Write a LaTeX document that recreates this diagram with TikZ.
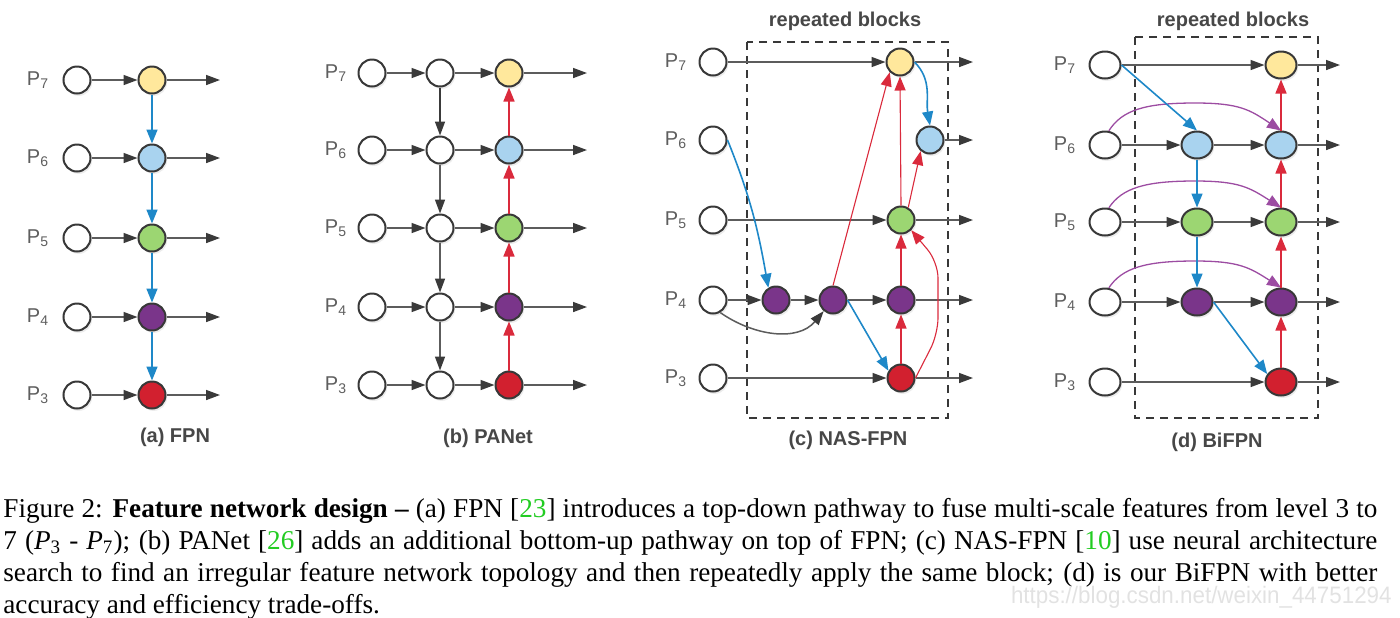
\documentclass[tikz,border=0pt]{standalone}
\usepackage{fontspec}
\setmainfont{Liberation Serif}
\setsansfont{Liberation Sans}
\usetikzlibrary{arrows.meta,shapes.geometric,shadows}

\definecolor{ndraw}{HTML}{383838}
\definecolor{lgray}{HTML}{5C5C5C}
\definecolor{tipgray}{HTML}{3A3A3A}
\definecolor{cyellow}{HTML}{FFE89C}
\definecolor{cblue}{HTML}{A9D3EF}
\definecolor{cgreen}{HTML}{9CD672}
\definecolor{cpurple}{HTML}{7A358A}
\definecolor{cred}{HTML}{D2202F}
\definecolor{ablue}{HTML}{1E88C8}
\definecolor{ared}{HTML}{DA2A3C}
\definecolor{apurple}{HTML}{9C4CA2}
\definecolor{lblgray}{HTML}{5E5E5E}
\definecolor{ttlgray}{HTML}{474747}
\definecolor{citegreen}{HTML}{22CC22}
\definecolor{wmgray}{HTML}{E2E2E2}

\tikzset{
  nd/.style={ellipse, draw=ndraw, line width=1pt, minimum width=13.5pt, minimum height=13.5pt,
    inner sep=0pt, fill=white, drop shadow={opacity=0.15, shadow xshift=0.8pt, shadow yshift=-1.2pt}},
  ndw/.style={nd, minimum width=15.5pt},
  lbl/.style={font=\sffamily\fontsize{10}{12}\selectfont, text=lblgray, inner sep=0pt, anchor=east},
  ttl/.style={font=\sffamily\bfseries\fontsize{10}{12}\selectfont, text=ttlgray, inner sep=0pt},
  ga/.style={draw=lgray, line width=0.75pt, -{Triangle[length=7pt,width=5pt,color=tipgray]}},
  gda/.style={draw=tipgray, line width=0.8pt, -{Triangle[length=7pt,width=5pt,color=tipgray]}},
  ba/.style={draw=ablue, line width=0.8pt, -{Triangle[length=7pt,width=5.5pt]}},
  ra/.style={draw=ared, line width=0.8pt, -{Triangle[length=7pt,width=5.5pt]}},
  rat/.style={draw=ared, line width=0.55pt, -{Triangle[length=7pt,width=5.5pt]}},
  pa/.style={draw=apurple, line width=0.65pt, -{Triangle[length=7pt,width=5.5pt]}},
  dbox/.style={draw=ndraw, line width=0.8pt, dash pattern=on 4pt off 3pt},
}

\begin{document}
\begin{tikzpicture}[x=0.5pt,y=-0.5pt]
\useasboundingbox (0,0) rectangle (1400,617);

% ---------------- (a) FPN ----------------
\foreach \i/\y/\c in {7/80/cyellow,6/158/cblue,5/238/cgreen,4/317/cpurple,3/395/cred}{
  \node[nd] (a\i) at (77,\y) {};
  \node[lbl] (la\i) at ([xshift=-6.5pt]a\i.west) {P\textsubscript{\i}};
  \node[nd, fill=\c] (A\i) at (152,\y) {};
  \coordinate (ao\i) at (220,\y);
  \draw[ga] (a\i) -- (A\i);
  \draw[ga] (A\i) -- (ao\i);
}
\draw[ba] (A7) -- (A6);
\draw[ba] (A6) -- (A5);
\draw[ba] (A5) -- (A4);
\draw[ba] (A4) -- (A3);
\node[ttl] (ta) at (175,437) {(a) FPN};

% ---------------- (b) PANet ----------------
\foreach \i/\y/\c in {7/73/cyellow,6/150/cblue,5/228/cgreen,4/307/cpurple,3/385/cred}{
  \node[nd] (b\i) at (372,\y) {};
  \node[lbl] (lb\i) at ([xshift=-5pt]b\i.west) {P\textsubscript{\i}};
  \node[nd] (bm\i) at (440,\y) {};
  \node[nd, fill=\c] (B\i) at (509,\y) {};
  \coordinate (bo\i) at (587,\y);
  \draw[ga] (b\i) -- (bm\i);
  \draw[ga] (bm\i) -- (B\i);
  \draw[ga] (B\i) -- (bo\i);
}
\draw[gda] (bm7) -- (bm6);
\draw[ga] (bm6) -- (bm5);
\draw[ga] (bm5) -- (bm4);
\draw[ga] (bm4) -- (bm3);
\draw[ra] (B3) -- (B4);
\draw[ra] (B4) -- (B5);
\draw[ra] (B5) -- (B6);
\draw[ra] (B6) -- (B7);
\node[ttl] (tb) at (488,438) {(b) PANet};

% ---------------- (c) NAS-FPN ----------------
\draw[dbox] (747,42) rectangle (948,418);
\node[ttl] (rc) at (845,21) {repeated blocks};
\foreach \i/\y in {7/62,6/140,5/220,4/300,3/378}{
  \node[nd] (c\i) at (713,\y) {};
  \node[lbl] (lc\i) at ([xshift=-5.5pt]c\i.west) {P\textsubscript{\i}};
}
\node[nd, fill=cyellow] (C7) at (900,62) {};
\node[nd, fill=cblue] (C6) at (930,140) {};
\node[nd, fill=cgreen] (C5) at (901,220) {};
\node[nd, fill=cpurple] (Q1) at (776,300) {};
\node[nd, fill=cpurple] (Q2) at (833,300) {};
\node[nd, fill=cpurple] (C4) at (901,300) {};
\node[nd, fill=cred] (C3) at (901,378) {};
\foreach \i/\y in {7/62,6/140,5/220,4/300,3/378}{
  \coordinate (co\i) at (973,\y);
  \draw[ga] (C\i) -- (co\i);
}
\draw[ga] (c7) -- (C7);
\draw[ga] (c5) -- (C5);
\draw[ga] (c3) -- (C3);
\draw[ga] (c4) -- (Q1);
\draw[ga] (Q1) -- (Q2);
\draw[ga] (Q2) -- (C4);
\draw[ga] (c4.300) to[out=-35,in=-130] (Q2.230);
\draw[ba] (c6.east) to[out=-68,in=100] (Q1.122);
\draw[ba] (C7.east) to[out=-45,in=100] (C6.north);
\draw[ba] (Q2.east) -- (C3.150);
\draw[rat] (Q2.north) -- (C7.225);
\draw[rat] (C5.north) -- (C7.south);
\draw[rat] (C5.60) -- (C6.230);
\draw[rat] (C3.north) -- (C4.south);
\draw[rat] (C4.north) -- (C5.south);
\draw[rat, rounded corners=8pt] (C3.east) -- (938,334) -- (938,262) -- (C5.315);
\node[ttl] (tc) at (848,440) {(c) NAS-FPN};

% ---------------- (d) BiFPN ----------------
\draw[dbox] (1135,37) rectangle (1318,418);
\node[ttl] (rd) at (1233,21) {repeated blocks};
\foreach \i/\y in {7/65,6/145,5/222,4/302,3/382}{
  \node[ndw] (d\i) at (1105,\y) {};
  \node[lbl] (ld\i) at ([xshift=-6pt]d\i.west) {P\textsubscript{\i}};
}
\node[ndw, fill=cblue] (M6) at (1197,145) {};
\node[ndw, fill=cgreen] (M5) at (1197,222) {};
\node[ndw, fill=cpurple] (M4) at (1197,302) {};
\node[ndw, fill=cyellow] (D7) at (1281,65) {};
\node[ndw, fill=cblue] (D6) at (1281,145) {};
\node[ndw, fill=cgreen] (D5) at (1281,222) {};
\node[ndw, fill=cpurple] (D4) at (1281,302) {};
\node[ndw, fill=cred] (D3) at (1281,382) {};
\foreach \i/\y in {7/65,6/145,5/222,4/302,3/382}{
  \coordinate (do\i) at (1340,\y);
  \draw[ga] (D\i) -- (do\i);
}
\draw[ga] (d7) -- (D7);
\draw[ga] (d3) -- (D3);
\foreach \i/\t/\s in {6/103/110,5/181/188,4/261/268}{
  \draw[ga] (d\i) -- (M\i);
  \draw[ga] (M\i) -- (D\i);
  \draw[pa] (d\i.75) .. controls (1122,\s) and (1145,\t) .. (1195,\t)
     .. controls (1240,\t) and (1250,\s) .. (D\i.north);
}
\draw[ba] (d7.east) -- (M6.north);
\draw[ba] (M6) -- (M5);
\draw[ba] (M5) -- (M4);
\draw[ba] (M4.east) -- (D3.150);
\draw[ra] (D3) -- (D4);
\draw[ra] (D4) -- (D5);
\draw[ra] (D5) -- (D6);
\draw[ra] (D6) -- (D7);
\node[ttl] (td) at (1217,442) {(d) BiFPN};

% ---------------- caption ----------------
\node[anchor=north west, inner sep=0pt, text width=687pt, align=justify,
      font=\fontsize{13.6}{16}\selectfont] (cap) at (3,498) {%
\hyphenpenalty=10000\noindent
Figure 2: \textbf{Feature network design --} (a) FPN [\textcolor{citegreen}{23}] introduces a top-down pathway to fuse multi-scale features from level 3 to\linebreak
7 (\textit{P}\textsubscript{3} - \textit{P}\textsubscript{7}); (b) PANet [\textcolor{citegreen}{26}] adds an additional bottom-up pathway on top of FPN; (c) NAS-FPN [\textcolor{citegreen}{10}] use neural architecture\linebreak
search to find an irregular feature network topology and then repeatedly apply the same block; (d) is our BiFPN with better\linebreak
accuracy and efficiency trade-offs.};
\node[inner sep=0pt, anchor=east, text=wmgray, font=\sffamily\fontsize{11.9}{14}\selectfont] (wm) at (1392,597) {\scalebox{0.94}[1]{https://blog.csdn.net/weixin\_44751294}};
\end{tikzpicture}
\end{document}
